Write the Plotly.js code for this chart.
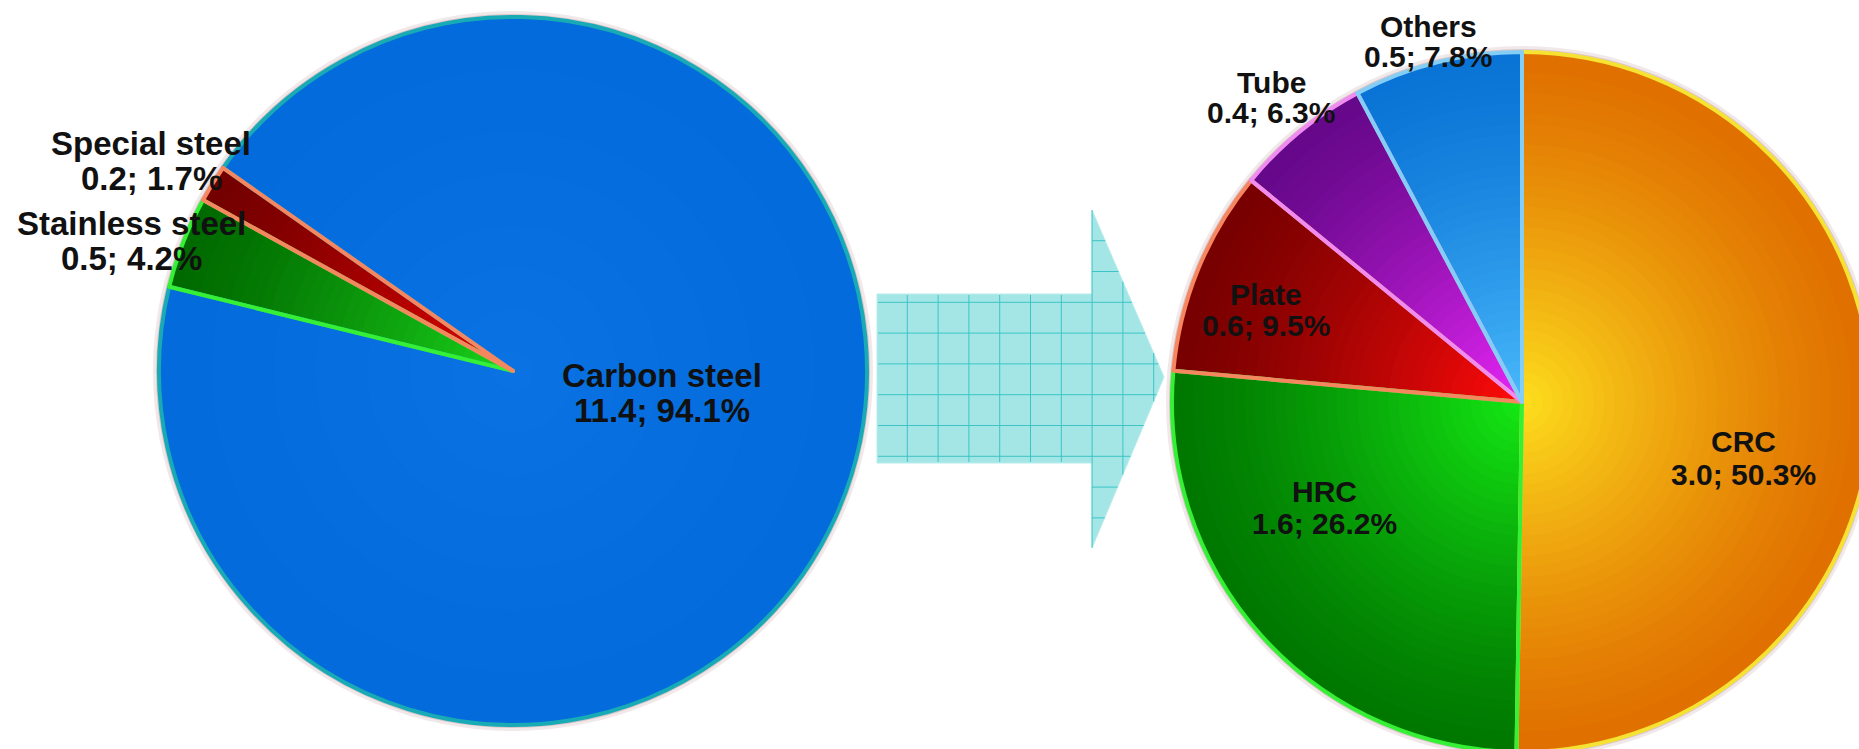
<!DOCTYPE html>
<html>
<head>
<meta charset="utf-8">
<script src="https://cdn.plot.ly/plotly-3.0.1.min.js"></script>
<style>
html,body{margin:0;padding:0;overflow:hidden;background:#ffffff;}
#chart{width:1880px;height:760px;}
</style>
</head>
<body>
<div id="chart"></div>
<script>
// ---------------- data ----------------
const steelTypes   = ['Carbon steel', 'Stainless steel', 'Special steel'];
const steelVolumes = [11.4, 0.5, 0.2];
const steelShares  = [94.1, 4.2, 1.7];

const carbonProducts = ['CRC', 'HRC', 'Plate', 'Tube', 'Others'];
const carbonVolumes  = [3.0, 1.6, 0.6, 0.4, 0.5];
const carbonShares   = [50.3, 26.2, 9.5, 6.3, 7.8];

// ---------------- styles / layout ----------------
const W = 1880, H = 760;
const X = px => px / W;
const Y = py => 1 - py / H;

const leftPie  = {cx: 513,  cy: 371, r: 354, rotation: -55};
const rightPie = {cx: 1522, cy: 402, r: 350, rotation: 0};

const leftOuter  = ['#036bdb', '#006a00', '#740000'];
const leftInner  = ['#0a72e2', '#1ad21a', '#e60000'];
const leftEdge   = ['#18abb6', '#35f035', '#f5865f'];

const rightOuter = ['#e07000', '#007800', '#780000', '#66088a', '#0a74d6'];
const rightInner = ['#fcdc1c', '#14e614', '#ff0a0a', '#e424f4', '#48b8fa'];
const rightEdge  = ['#f6e232', '#35f035', '#f5865f', '#f08cf0', '#84cdf5'];

const leftLabelPos = [
  {x: 662, b1: 387, b2: 422},
  {x: 131, b1: 235, b2: 270},
  {x: 151, b1: 155, b2: 190}
];
const rightLabelPos = [
  {x: 1743, b1: 452, b2: 485},
  {x: 1324, b1: 502, b2: 534},
  {x: 1266, b1: 305, b2: 336},
  {x: 1271, b1: 93,  b2: 123},
  {x: 1428, b1: 37,  b2: 67}
];
const leftFont = 33, rightFont = 30;
const textColor = '#111111';
const LAYERS = 34;

// ---------------- helpers ----------------
function hexToRgb(h) {
  const n = parseInt(h.slice(1), 16);
  return [(n >> 16) & 255, (n >> 8) & 255, n & 255];
}
function mix(a, b, t) {
  const A = hexToRgb(a), B = hexToRgb(b);
  const c = A.map((v, i) => Math.round(v + (B[i] - v) * t));
  return 'rgb(' + c.join(',') + ')';
}
function pieDomain(p, r) {
  return {x: [X(p.cx - r), X(p.cx + r)], y: [Y(p.cy + r), Y(p.cy - r)]};
}
function pieTraces(p, labels, shares, outer, inner, edge) {
  const traces = [];
  for (let k = 0; k < LAYERS; k++) {
    const t = k / (LAYERS - 1);
    const rk = p.r * (1 - k / LAYERS);
    traces.push({
      type: 'pie', labels: labels, values: shares, sort: false,
      direction: 'clockwise', rotation: p.rotation,
      domain: pieDomain(p, rk),
      marker: {colors: outer.map((c, i) => mix(c, inner[i], Math.pow(t, 1.3))), line: {width: 0}},
      textinfo: 'none', hoverinfo: 'skip', showlegend: false
    });
  }
  traces.push({
    type: 'pie', labels: labels, values: shares, sort: false,
    direction: 'clockwise', rotation: p.rotation,
    domain: pieDomain(p, p.r),
    marker: {colors: labels.map(() => 'rgba(0,0,0,0)'), line: {color: edge, width: 4}},
    textinfo: 'none', hoverinfo: 'skip', showlegend: false
  });
  return traces;
}
function labelAnnotations(labels, volumes, shares, pos, fs) {
  const out = [];
  labels.forEach((lab, i) => {
    const lines = [lab, volumes[i].toFixed(1) + '; ' + shares[i].toFixed(1) + '%'];
    [pos[i].b1, pos[i].b2].forEach((b, j) => {
      out.push({
        xref: 'paper', yref: 'paper', x: X(pos[i].x), y: Y(b - 0.35 * fs),
        xanchor: 'center', yanchor: 'middle', showarrow: false,
        text: '<b>' + lines[j] + '</b>',
        font: {family: 'Liberation Sans, Arial, sans-serif', size: fs, color: textColor}
      });
    });
  });
  return out;
}

// ---------------- arrow (decoration) ----------------
const arrowPts = [[877,294],[1092,294],[1092,210],[1164,377],[1092,548],[1092,463],[877,463]];
function headRight(y) { return y <= 377 ? 1092 + 72 * (y - 210) / 167 : 1092 + 72 * (548 - y) / 171; }
function headTop(x) { return 210 + 167 * (x - 1092) / 72; }
function headBot(x) { return 548 - 171 * (x - 1092) / 72; }
const shapes = [];
shapes.push({
  type: 'path', xref: 'paper', yref: 'paper', layer: 'below',
  path: 'M ' + arrowPts.map(p => X(p[0]) + ',' + Y(p[1])).join(' L ') + ' Z',
  fillcolor: '#a4e6e6', line: {width: 1, color: '#b8ecec'}
});
const gridColor = '#3cc4c6', step = 30.8;
for (let gx = 907.3; gx < 1164; gx += step) {
  let y0, y1;
  if (gx < 1092) { y0 = 295; y1 = 462; } else { y0 = headTop(gx); y1 = headBot(gx); }
  shapes.push({type: 'line', xref: 'paper', yref: 'paper', layer: 'below',
    x0: X(gx), x1: X(gx), y0: Y(y0), y1: Y(y1), line: {color: gridColor, width: 1}});
}
for (let gy = 302.3 - 2 * step; gy < 548; gy += step) {
  let x0;
  if (gy > 294 && gy < 463) x0 = 878; else x0 = 1092;
  const x1 = headRight(gy);
  if (x1 <= x0) continue;
  shapes.push({type: 'line', xref: 'paper', yref: 'paper', layer: 'below',
    x0: X(x0), x1: X(x1), y0: Y(gy), y1: Y(gy), line: {color: gridColor, width: 1}});
}
// soft halos behind the pies
[leftPie, rightPie].forEach(p => {
  [6, 3].forEach((d, i) => {
    shapes.push({type: 'circle', xref: 'paper', yref: 'paper', layer: 'below',
      x0: X(p.cx - p.r - d), x1: X(p.cx + p.r + d), y0: Y(p.cy + p.r + d), y1: Y(p.cy - p.r - d),
      fillcolor: i === 0 ? 'rgba(215,190,195,0.35)' : 'rgba(190,160,165,0.45)', line: {width: 0}});
  });
});

const data = []
  .concat(pieTraces(leftPie, steelTypes, steelShares, leftOuter, leftInner, leftEdge))
  .concat(pieTraces(rightPie, carbonProducts, carbonShares, rightOuter, rightInner, rightEdge));

const layout = {
  width: W, height: H,
  margin: {l: 0, r: 0, t: 0, b: 0, pad: 0},
  paper_bgcolor: '#ffffff', plot_bgcolor: '#ffffff',
  showlegend: false, hovermode: false,
  shapes: shapes,
  annotations: labelAnnotations(steelTypes, steelVolumes, steelShares, leftLabelPos, leftFont)
    .concat(labelAnnotations(carbonProducts, carbonVolumes, carbonShares, rightLabelPos, rightFont))
};

Plotly.newPlot('chart', data, layout, {staticPlot: true, displayModeBar: false});
</script>
</body>
</html>
